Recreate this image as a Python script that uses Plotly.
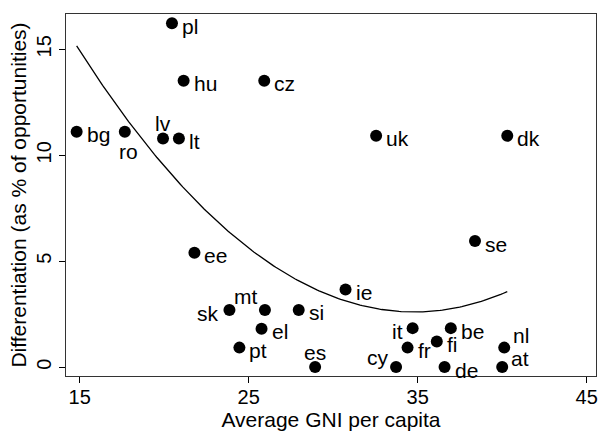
import numpy as np
import plotly.graph_objects as go

countries = ["pl", "hu", "cz", "bg", "ro", "lv", "lt", "uk", "dk", "ee", "sk", "mt", "el",
             "pt", "si", "es", "ie", "se", "it", "be", "fi", "fr", "nl", "at", "cy", "de"]
gni = [20.46, 21.15, 25.92, 14.82, 17.67, 19.93, 20.87, 32.54, 40.30, 21.79, 23.86, 25.96, 25.76,
       24.45, 27.96, 28.93, 30.73, 38.39, 34.70, 36.96, 36.13, 34.40, 40.12, 40.00, 33.72, 36.59]
differentiation = [16.23, 13.52, 13.52, 11.11, 11.11, 10.79, 10.79, 10.92, 10.92, 5.40, 2.70, 2.70, 1.81,
                   0.92, 2.70, 0.00, 3.66, 5.95, 1.84, 1.84, 1.21, 0.92, 0.92, 0.00, 0.00, 0.00]
# marker-label clock positions (Stata style)
label_clock = [3, 3, 3, 3, 6, 12, 3, 3, 3, 3, 9, 11, 3, 3, 3, 12, 3, 3, 9, 3, 3, 3, 1, 2, 10, 3]

x_ticks = [15, 25, 35, 45]
y_ticks = [0, 5, 10, 15]

# label placement style per clock position: (xanchor, xshift, yshift)
CLOCK_STYLE = {
    3: ("left", 8, -3),
    9: ("right", -8, -3.5),
    12: ("center", 0, 15),
    6: ("center", 4, -20),
    11: ("right", -6, 13),
    10: ("right", -5, 10),
    1: ("left", 7, 12),
    2: ("left", 7, 9),
}

# quadratic fit (like Stata qfit) over the data range
coef = np.polyfit(gni, differentiation, 2)
xfit = np.linspace(min(gni), max(gni), 200)
yfit = np.polyval(coef, xfit)

FONT = "Liberation Sans, Arial, Helvetica, sans-serif"

fig = go.Figure()
fig.add_trace(go.Scatter(x=xfit, y=yfit, mode="lines",
                         line=dict(color="black", width=1.3), hoverinfo="skip", showlegend=False))
fig.add_trace(go.Scatter(x=gni, y=differentiation, mode="markers", cliponaxis=False,
                         marker=dict(color="black", size=12), showlegend=False))

for name, xv, yv, clk in zip(countries, gni, differentiation, label_clock):
    xa, xs, ys = CLOCK_STYLE[clk]
    fig.add_annotation(x=xv, y=yv, xref="x", yref="y", text=name, showarrow=False,
                       xanchor=xa, yanchor="middle", xshift=xs, yshift=ys,
                       font=dict(family=FONT, size=21, color="black"))

axis_common = dict(showgrid=False, zeroline=False, showline=True, mirror=True,
                   linecolor="#333", linewidth=1, ticks="outside", ticklen=6,
                   tickcolor="black", tickwidth=1,
                   tickfont=dict(family=FONT, size=20, color="black"))

fig.update_layout(
    width=601, height=432,
    margin=dict(l=66, r=3, t=14, b=56),
    paper_bgcolor="white", plot_bgcolor="white",
    xaxis=dict(range=[14.19, 45.55], tickvals=x_ticks, ticklabelstandoff=-3,
               title=dict(text="Average GNI per capita", font=dict(family=FONT, size=21, color="black"),
                          standoff=4),
               **axis_common),
    yaxis=dict(range=[-0.42, 16.67], tickvals=y_ticks, tickangle=-90,
               title=dict(text="Differentiation (as % of opportunities)",
                          font=dict(family=FONT, size=21, color="black"), standoff=0),
               **axis_common),
)

fig.write_html("out.html")
